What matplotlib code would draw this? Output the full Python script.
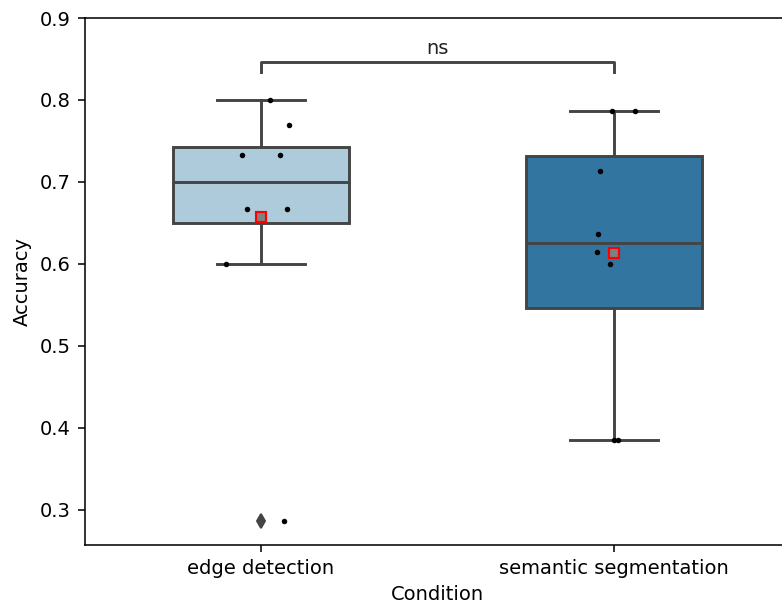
import numpy as np
import matplotlib
matplotlib.use("Agg")
import matplotlib.pyplot as plt

conditions = ["edge detection", "semantic segmentation"]
edge_detection = [0.800, 0.770, 0.733, 0.733, 0.667, 0.667, 0.600, 0.286]
semantic_segmentation = [0.786, 0.786, 0.714, 0.636, 0.615, 0.600, 0.385, 0.385]
box_colors = ["#adcbdb", "#3275a1"]
annotation_text = "ns"
y_ticks = [0.3, 0.4, 0.5, 0.6, 0.7, 0.8, 0.9]

series = [edge_detection, semantic_segmentation]
line_color = "#444444"

DPI = 140
fig = plt.figure(figsize=(782 / DPI, 603 / DPI), dpi=DPI)
ax = fig.add_axes([84.5 / 782, 1 - 545 / 603, 706 / 782, 527 / 603])

positions = np.arange(len(conditions))
bp = ax.boxplot(
    series, positions=positions, widths=0.5, patch_artist=True,
    showmeans=True,
    meanprops=dict(marker="s", markerfacecolor="gray", markeredgecolor="red",
                   markersize=5.5, markeredgewidth=1.1),
    medianprops=dict(color=line_color, linewidth=1.5),
    whiskerprops=dict(color=line_color, linewidth=1.5),
    capprops=dict(color=line_color, linewidth=1.5),
    boxprops=dict(edgecolor=line_color, linewidth=1.5),
    flierprops=dict(marker="d", markerfacecolor=line_color,
                    markeredgecolor=line_color, markersize=5),
    zorder=2,
)
for patch, c in zip(bp["boxes"], box_colors):
    patch.set_facecolor(c)
for m in bp["means"]:
    m.set_zorder(5)

rng = np.random.default_rng(7)
for i, vals in enumerate(series):
    jit = rng.uniform(-0.1, 0.1, size=len(vals))
    ax.scatter(i + jit, vals, s=8, color="black", linewidths=0, zorder=4)

# significance bracket
top = max(max(v) for v in series)
y0 = top + 0.034
y1 = top + 0.046
ax.plot([0, 0, 1, 1], [y0, y1, y1, y0], color=line_color, linewidth=1.5,
        zorder=3)
ax.text(0.5, y1 + 0.005, annotation_text, ha="center", va="bottom",
        fontsize=10, color="#222222")

ax.set_xlim(-0.5, 1.5)
ax.set_ylim(0.2573, 0.9)
ax.set_xticks(positions)
ax.set_xticklabels(conditions, fontsize=10)
ax.set_yticks(y_ticks)
ax.set_yticklabels([f"{t:.1f}" for t in y_ticks], fontsize=10)
ax.set_xlabel("Condition", fontsize=10)
ax.set_ylabel("Accuracy", fontsize=10)

fig.savefig("out.png", dpi=DPI)
